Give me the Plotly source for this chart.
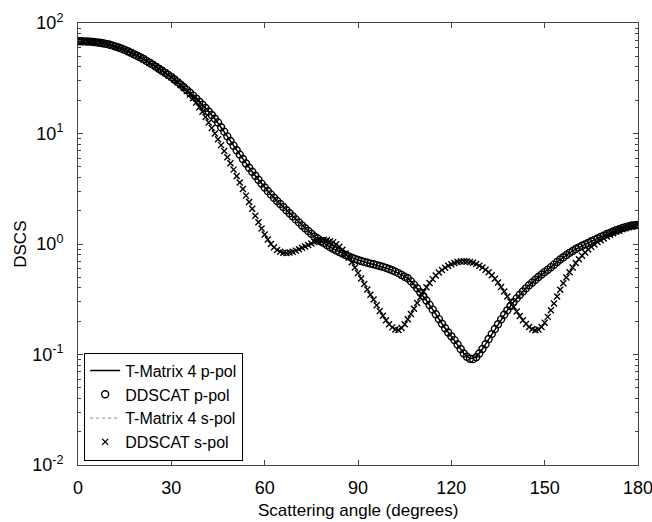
import plotly.graph_objects as go

# Scattering angles (degrees)
dd_angle = list(range(0, 181))
tm_angle = list(range(0, 181, 2))

# DDSCAT p-pol (every degree)
dd_p = [68.4, 68.4, 68.2, 68.1, 67.8, 67.3, 66.8, 66.2, 65.5, 64.7, 63.8,
        62.7, 61.4, 60.1, 58.6, 57.1, 55.5, 53.8, 52.2, 50.6, 49.0,
        47.2, 45.4, 43.7, 42.0, 40.3, 38.6, 37.0, 35.4, 33.9, 32.4,
        30.8, 29.2, 27.7, 26.2, 24.8, 23.4, 22.0, 20.7, 19.4, 18.2,
        17.0, 15.8, 14.7, 13.6, 12.6, 11.4, 10.4, 9.42, 8.55, 7.76,
        7.06, 6.44, 5.87, 5.36, 4.90, 4.50, 4.14, 3.81, 3.52, 3.25,
        3.02, 2.81, 2.62, 2.45, 2.30, 2.16, 2.02, 1.90, 1.78, 1.67,
        1.57, 1.47, 1.39, 1.31, 1.24, 1.17, 1.12, 1.06, 1.02, 0.977,
        0.940, 0.906, 0.875, 0.847, 0.820, 0.796, 0.773, 0.752, 0.733, 0.716,
        0.702, 0.689, 0.676, 0.665, 0.655, 0.644, 0.632, 0.621, 0.608, 0.594,
        0.579, 0.562, 0.545, 0.525, 0.505, 0.490, 0.459, 0.429, 0.398, 0.367,
        0.337, 0.308, 0.281, 0.255, 0.231, 0.209, 0.190, 0.173, 0.158, 0.146,
        0.135, 0.123, 0.112, 0.102, 0.0955, 0.0916, 0.0908, 0.0944, 0.102, 0.112,
        0.124, 0.138, 0.153, 0.170, 0.188, 0.208, 0.229, 0.251, 0.274, 0.298,
        0.322, 0.347, 0.372, 0.397, 0.423, 0.449, 0.475, 0.502, 0.530, 0.557,
        0.585, 0.617, 0.650, 0.687, 0.724, 0.759, 0.794, 0.832, 0.865, 0.900,
        0.933, 0.964, 0.993, 1.02, 1.06, 1.09, 1.12, 1.16, 1.19, 1.23,
        1.26, 1.30, 1.33, 1.36, 1.40, 1.42, 1.45, 1.47, 1.48, 1.49]

# DDSCAT s-pol (every degree)
dd_s = [68.4, 68.4, 68.2, 68.1, 67.8, 67.3, 66.8, 66.2, 65.5, 64.7, 63.8,
        62.7, 61.4, 60.1, 58.6, 57.1, 55.5, 53.8, 52.2, 50.6, 49.0,
        47.2, 45.4, 43.7, 42.0, 40.3, 38.6, 37.0, 35.4, 33.9, 32.4,
        30.8, 29.2, 27.5, 25.9, 24.3, 22.5, 20.8, 19.1, 17.3, 15.7,
        14.1, 12.6, 11.2, 10.0, 8.87, 7.85, 6.93, 6.11, 5.37, 4.71,
        4.12, 3.60, 3.14, 2.74, 2.40, 2.08, 1.80, 1.57, 1.38, 1.22,
        1.10, 1.00, 0.933, 0.881, 0.849, 0.832, 0.828, 0.836, 0.851, 0.871,
        0.895, 0.923, 0.951, 0.979, 1.01, 1.04, 1.06, 1.08, 1.09, 1.08,
        1.06, 1.04, 0.995, 0.946, 0.887, 0.822, 0.755, 0.684, 0.614, 0.547,
        0.488, 0.435, 0.388, 0.348, 0.314, 0.279, 0.248, 0.224, 0.204, 0.188,
        0.176, 0.168, 0.167, 0.174, 0.188, 0.208, 0.232, 0.260, 0.293, 0.330,
        0.367, 0.406, 0.444, 0.481, 0.518, 0.552, 0.583, 0.611, 0.635, 0.656,
        0.673, 0.686, 0.693, 0.697, 0.695, 0.687, 0.675, 0.658, 0.637, 0.612,
        0.585, 0.555, 0.521, 0.485, 0.448, 0.409, 0.372, 0.335, 0.301, 0.271,
        0.245, 0.223, 0.204, 0.189, 0.177, 0.169, 0.166, 0.168, 0.177, 0.194,
        0.219, 0.251, 0.290, 0.335, 0.385, 0.441, 0.498, 0.556, 0.614, 0.672,
        0.728, 0.783, 0.838, 0.891, 0.942, 0.991, 1.04, 1.08, 1.12, 1.17,
        1.21, 1.25, 1.29, 1.32, 1.36, 1.39, 1.42, 1.44, 1.47, 1.49]

# T-Matrix p-pol (every 2 degrees)
tm_p = [68.4, 68.2, 67.8, 66.8, 65.5, 63.8, 61.4, 58.6, 55.5, 52.2,
        49.0, 45.4, 42.0, 38.6, 35.4, 32.4, 29.2, 26.2, 23.4, 20.7,
        18.2, 15.8, 13.6, 11.4, 9.42, 7.76, 6.44, 5.36, 4.50, 3.81,
        3.25, 2.81, 2.45, 2.16, 1.90, 1.67, 1.47, 1.31, 1.17, 1.06,
        0.977, 0.906, 0.847, 0.796, 0.752, 0.716, 0.689, 0.665, 0.644, 0.621,
        0.594, 0.562, 0.525, 0.490, 0.429, 0.367, 0.308, 0.255, 0.209, 0.173,
        0.146, 0.123, 0.102, 0.0916, 0.0944, 0.112, 0.138, 0.170, 0.208, 0.251,
        0.298, 0.347, 0.397, 0.449, 0.502, 0.557, 0.617, 0.687, 0.759, 0.832,
        0.900, 0.964, 1.02, 1.09, 1.16, 1.23, 1.30, 1.36, 1.42, 1.47, 1.49]

# T-Matrix s-pol (every 2 degrees)
tm_s = [68.4, 68.2, 67.8, 66.8, 65.5, 63.8, 61.4, 58.6, 55.5, 52.2,
        49.0, 45.4, 42.0, 38.6, 35.4, 32.4, 29.2, 25.9, 22.5, 19.1,
        15.7, 12.6, 10.0, 7.85, 6.11, 4.71, 3.60, 2.74, 2.08, 1.57,
        1.22, 1.00, 0.881, 0.832, 0.836, 0.871, 0.923, 0.979, 1.04, 1.08,
        1.08, 1.04, 0.946, 0.822, 0.684, 0.547, 0.435, 0.348, 0.279, 0.224,
        0.188, 0.168, 0.174, 0.208, 0.260, 0.330, 0.406, 0.481, 0.552, 0.611,
        0.656, 0.686, 0.697, 0.687, 0.658, 0.612, 0.555, 0.485, 0.409, 0.335,
        0.271, 0.223, 0.189, 0.169, 0.170, 0.205, 0.268, 0.360, 0.470, 0.590,
        0.705, 0.810, 0.910, 1.00, 1.09, 1.17, 1.25, 1.32, 1.39, 1.44, 1.49]

x_ticks = [0, 30, 60, 90, 120, 150, 180]
y_ticks = [0.01, 0.1, 1, 10, 100]
y_tick_text = ["10<sup>-2</sup>", "10<sup>-1</sup>", "10<sup>0</sup>",
               "10<sup>1</sup>", "10<sup>2</sup>"]
y_minor = [m * d for d in (0.01, 0.1, 1, 10) for m in range(2, 10)]
x_title = "Scattering angle (degrees)"
y_title = "DSCS"

FONT = "Liberation Sans, Arial, sans-serif"
AX = "#444444"

fig = go.Figure()
fig.add_trace(go.Scatter(x=tm_angle, y=tm_p, mode="lines", name="T-Matrix 4 p-pol",
                         line=dict(color="black", width=1.5)))
fig.add_trace(go.Scatter(x=dd_angle, y=dd_p, mode="markers", name="DDSCAT p-pol",
                         marker=dict(symbol="circle-open", size=7, color="black",
                                     line=dict(width=1.4, color="black"))))
fig.add_trace(go.Scatter(x=tm_angle, y=tm_s, mode="lines", name="T-Matrix 4 s-pol",
                         line=dict(color="#888888", width=1, dash="dot")))
fig.add_trace(go.Scatter(x=dd_angle, y=dd_s, mode="markers", name="DDSCAT s-pol",
                         marker=dict(symbol="x-thin-open", size=6, color="black",
                                     line=dict(width=1.4, color="black"))))

fig.update_layout(
    width=652, height=522,
    margin=dict(l=78, r=14, t=23, b=57),
    paper_bgcolor="white", plot_bgcolor="white",
    font=dict(family=FONT, size=17, color="black"),
    showlegend=True,
    legend=dict(x=0.011, y=0.01, xanchor="left", yanchor="bottom",
                bgcolor="white", bordercolor="black", borderwidth=1,
                font=dict(family=FONT, size=16, color="black"),
                tracegroupgap=0, itemwidth=30),
    annotations=[
        dict(text=x_title, xref="paper", yref="paper", x=0.5, y=-0.102,
             xanchor="center", yanchor="middle", showarrow=False,
             font=dict(family=FONT, size=17, color="black")),
        dict(text=y_title, xref="paper", yref="paper", x=-0.104, y=0.5,
             xanchor="center", yanchor="middle", showarrow=False, textangle=-90,
             font=dict(family=FONT, size=17, color="black")),
    ],
)
fig.update_xaxes(
    range=[0, 180], tickvals=x_ticks, ticktext=[str(v) for v in x_ticks],
    ticks="inside", ticklen=5, tickcolor=AX, tickwidth=1,
    showline=True, linecolor=AX, linewidth=1, mirror="ticks",
    showgrid=False, zeroline=False, ticklabelstandoff=6,
    ticklabeloverflow="allow", automargin=False,
    tickfont=dict(family=FONT, size=18),
)
fig.update_yaxes(
    type="log", range=[-2, 2], tickvals=y_ticks, ticktext=y_tick_text,
    ticks="inside", ticklen=5, tickcolor=AX, tickwidth=1,
    showline=True, linecolor=AX, linewidth=1, mirror="ticks",
    showgrid=False, zeroline=False, ticklabelstandoff=10,
    ticklabeloverflow="allow", automargin=False,
    tickfont=dict(family=FONT, size=18),
    minor=dict(tickvals=y_minor, ticks="inside", ticklen=3, tickcolor=AX,
               showgrid=False),
)

fig.write_html("out.html")
